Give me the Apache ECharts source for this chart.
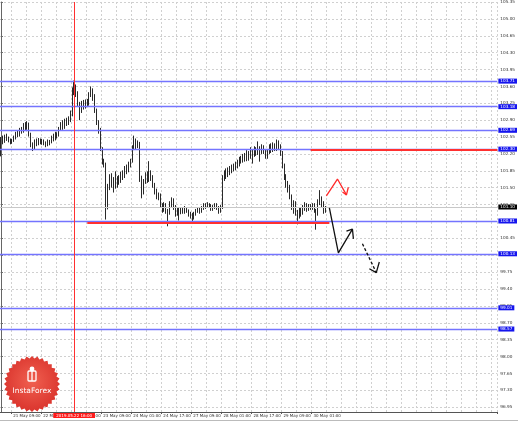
<!DOCTYPE html>
<html><head><meta charset="utf-8">
<script src="https://cdn.jsdelivr.net/npm/echarts@6/dist/echarts.min.js"></script>
<style>html,body{margin:0;padding:0;background:#fff}#c{width:518px;height:421px}</style>
</head><body><div id="c"></div>
<script>
// ---- data ----
const timeLabels = ['21 May 09:00','22 May 01:00','22 May 17:00','23 May 09:00','24 May 01:00','24 May 17:00','27 May 09:00','28 May 01:00','28 May 17:00','29 May 09:00','30 May 01:00'];
const priceTicks = [96.95,97.30,97.65,98.00,98.35,98.70,99.05,99.40,99.75,100.10,100.45,100.80,101.15,101.50,101.85,102.20,102.55,102.90,103.25,103.60,103.95,104.30,104.65,105.00,105.35];
const levels = [103.71,103.18,102.69,102.30,100.81,100.13,99.01,98.57];
const currentPrice = 101.10;
const markerTime = '2019.05.22 16:00';
// candles: [open, close, low, high]
const candles = [
[102.42,102.50,102.15,102.55],[102.50,102.46,102.40,102.58],[102.46,102.55,102.43,102.60],[102.55,102.52,102.47,102.62],
[102.52,102.48,102.44,102.56],[102.48,102.44,102.40,102.52],[102.44,102.47,102.41,102.51],[102.47,102.54,102.45,102.58],
[102.54,102.62,102.50,102.66],[102.62,102.58,102.55,102.68],[102.58,102.70,102.56,102.74],[102.70,102.66,102.62,102.76],
[102.66,102.78,102.64,102.84],[102.78,102.74,102.68,102.86],[102.74,102.82,102.70,102.88],[102.82,102.60,102.56,102.85],
[102.60,102.38,102.34,102.64],[102.38,102.32,102.26,102.44],[102.32,102.45,102.30,102.50],[102.45,102.40,102.36,102.52],
[102.40,102.48,102.38,102.53],[102.48,102.44,102.40,102.52],[102.44,102.47,102.39,102.51],[102.47,102.42,102.38,102.50],
[102.42,102.38,102.34,102.46],[102.38,102.46,102.36,102.50],[102.46,102.43,102.38,102.49],[102.43,102.55,102.42,102.58],
[102.55,102.50,102.46,102.62],[102.50,102.62,102.48,102.66],[102.62,102.58,102.52,102.65],[102.58,102.72,102.56,102.76],
[102.72,102.80,102.68,102.86],[102.80,102.74,102.70,102.90],[102.74,102.88,102.72,102.93],[102.88,102.82,102.78,102.95],
[102.82,102.90,102.80,102.98],[102.90,103.02,102.86,103.10],[103.02,103.50,102.98,103.58],[103.50,103.56,103.42,103.72],
[103.56,103.45,103.38,103.64],[103.45,103.22,103.18,103.50],[103.22,103.15,102.90,103.28],[103.15,103.25,103.05,103.30],
[103.25,103.18,103.12,103.32],[103.18,103.28,103.14,103.33],[103.28,103.22,103.17,103.34],[103.22,103.42,103.20,103.48],
[103.42,103.52,103.38,103.60],[103.52,103.40,103.30,103.56],[103.40,103.10,103.05,103.44],[103.10,102.85,102.80,103.14],
[102.85,102.70,102.62,102.90],[102.70,102.30,102.26,102.74],[102.30,102.05,101.98,102.34],[102.05,101.98,101.92,102.10],
[101.98,101.12,100.84,102.02],[101.12,101.50,101.05,101.58],[101.50,101.72,101.45,101.78],[101.72,101.58,101.50,101.80],
[101.58,101.66,101.40,101.72],[101.66,101.55,101.48,101.84],[101.55,101.70,101.50,101.74],[101.70,101.62,101.56,101.76],
[101.62,101.78,101.60,101.83],[101.78,101.72,101.66,101.86],[101.72,101.90,101.70,101.95],[101.90,101.85,101.78,101.98],
[101.85,101.98,101.82,102.04],[101.98,102.06,101.92,102.10],[102.06,102.32,102.02,102.38],[102.32,102.48,102.28,102.58],
[102.48,102.38,102.30,102.52],[102.38,102.42,102.32,102.48],[102.42,101.70,101.62,102.45],[101.70,101.40,101.28,101.75],
[101.40,101.62,101.36,101.68],[101.62,101.78,101.58,101.82],[101.78,101.66,101.60,101.84],[101.66,101.80,101.62,102.05],
[101.80,101.70,101.64,101.86],[101.70,101.56,101.50,101.76],[101.56,101.42,101.36,101.60],[101.42,101.30,101.26,101.48],
[101.30,101.34,101.24,101.40],[101.34,101.12,101.08,101.38],[101.12,101.06,100.98,101.18],[101.06,101.14,101.00,101.20],
[101.14,101.02,100.96,101.18],[101.02,100.98,100.70,101.06],[100.98,101.15,100.94,101.22],[101.15,101.24,101.10,101.30],
[101.24,101.10,101.04,101.28],[101.10,100.96,100.90,101.14],[100.96,101.05,100.92,101.10],[101.05,100.98,100.82,101.08],
[100.98,101.04,100.95,101.10],[101.04,101.00,100.96,101.08],[101.00,101.06,100.96,101.12],[101.06,101.02,100.98,101.10],
[101.02,100.96,100.90,101.05],[100.96,100.92,100.86,101.00],[100.92,100.86,100.80,100.98],[100.86,100.96,100.84,101.00],
[100.96,101.02,100.92,101.06],[101.02,101.06,100.98,101.10],[101.06,101.00,100.96,101.10],[101.00,101.08,100.98,101.12],
[101.08,101.14,101.04,101.18],[101.14,101.10,101.06,101.18],[101.10,101.16,101.08,101.20],[101.16,101.12,101.08,101.18],
[101.12,101.06,101.02,101.16],[101.06,101.10,101.02,101.14],[101.10,101.14,101.06,101.18],[101.14,101.08,101.04,101.18],
[101.08,101.02,100.96,101.12],[101.02,101.10,100.98,101.14],[101.10,101.70,101.06,101.76],[101.70,101.80,101.64,101.86],
[101.80,101.76,101.68,101.90],[101.76,101.86,101.72,101.92],[101.86,101.82,101.76,101.95],[101.82,101.94,101.80,101.98],
[101.94,101.90,101.84,102.00],[101.90,102.00,101.86,102.04],[102.00,101.96,101.90,102.08],[101.96,102.10,101.94,102.14],
[102.10,102.06,102.00,102.16],[102.06,102.16,102.02,102.20],[102.16,102.08,102.04,102.22],[102.08,102.20,102.05,102.28],
[102.20,102.12,102.06,102.26],[102.12,102.26,102.10,102.34],[102.26,102.18,102.00,102.30],[102.18,102.30,102.14,102.36],
[102.30,102.22,102.16,102.34],[102.22,102.32,102.18,102.46],[102.32,102.24,102.04,102.36],[102.24,102.34,102.20,102.40],
[102.34,102.26,102.20,102.38],[102.26,102.14,102.10,102.30],[102.14,102.24,102.10,102.30],[102.24,102.34,102.20,102.40],
[102.34,102.28,102.22,102.42],[102.28,102.38,102.24,102.44],[102.38,102.30,102.26,102.42],[102.30,102.40,102.26,102.50],
[102.40,102.36,102.28,102.48],[102.36,102.22,102.16,102.40],[102.22,101.95,101.90,102.26],[101.95,101.72,101.66,102.00],
[101.72,101.58,101.50,101.78],[101.58,101.50,101.40,101.64],[101.50,101.32,101.26,101.56],[101.32,101.10,101.04,101.36],
[101.10,101.18,100.96,101.24],[101.18,100.98,100.92,101.22],[100.98,100.92,100.74,101.04],[100.92,101.04,100.86,101.08],
[101.04,100.96,100.90,101.10],[100.96,101.08,100.94,101.14],[101.08,101.14,101.02,101.20],[101.14,101.06,101.00,101.18],
[101.06,101.12,101.02,101.16],[101.12,101.08,101.04,101.16],[101.08,101.14,101.04,101.18],[101.14,101.02,100.98,101.18],
[101.02,100.96,100.63,101.06],[100.96,101.20,100.92,101.26],[101.20,101.26,101.14,101.45],[101.26,101.16,101.10,101.32],
[101.16,101.02,100.96,101.22],[101.02,101.10,100.98,101.12]
];
// annotation paths: [bar position, price]
const redPath = [[173.4,101.33],[179.3,101.68],[184.1,101.35]];
const redHead = [[182.0,101.41],[184.1,101.35],[185.1,101.51]];
const blackPath = [[175.0,101.08],[179.8,100.15],[187.3,100.64]];
const blackHead = [[184.1,100.60],[187.3,100.64],[187.8,100.44]];
const dashPath = [[192.6,100.34],[200.0,99.74]];
const dashHead = [[196.3,99.82],[200.0,99.74],[201.6,99.96]];
const supportLine = {from: 46, to: 175, value: 100.78};
const resistLine = {from: 165, value: 102.28};
const markerBar = 39;
const firstLabelBar = 6, labelStep = 16, gridStep = 8;

// ---- build ----
const N = 265;
const cats = [];
for (let i = 0; i < N; i++) cats.push('');
timeLabels.forEach((t, k) => { cats[firstLabelBar + k * labelStep] = t; });

const chart = echarts.init(document.getElementById('c'), null, {renderer: 'canvas'});
const FS = 4.2;
const FSX = 4.0;
const FONT = 'DejaVu Sans';
const BLUE = '#7474ff';

function seal(cx, cy, ro, ri, n) {
  const pts = [];
  for (let i = 0; i < n * 2; i++) {
    const r = i % 2 === 0 ? ro : ri;
    const a = Math.PI * i / n - Math.PI / 2;
    pts.push([cx + r * Math.cos(a), cy + r * Math.sin(a)]);
  }
  return pts;
}

const lineSeries = (data, color, width, type) => ({
  type: 'line', xAxisIndex: 1, yAxisIndex: 0, data: data, symbol: 'none', silent: true,
  lineStyle: {color: color, width: width, type: type || 'solid'}, z: 6, animation: false
});

const levelLabel = (txt, bg) => ({show: true, position: 'end', distance: 1, formatter: () => txt, color: '#fff', backgroundColor: bg, fontSize: FS, fontFamily: FONT, padding: [1, 2, 0, 2]});

const option = {
  animation: false,
  backgroundColor: '#ffffff',
  grid: {left: 0, right: 20, top: 0, bottom: 9, containLabel: false},
  xAxis: [{
    type: 'category', data: cats, boundaryGap: true,
    axisLine: {show: true, lineStyle: {color: '#555', width: 1}},
    axisTick: {show: true, length: 2, interval: (i) => cats[i] !== '', lineStyle: {color: '#555'}},
    axisLabel: {show: true, interval: (i) => cats[i] !== '', hideOverlap: false, showMinLabel: true, align: 'left', margin: 2, fontSize: FSX, fontFamily: FONT, color: '#333', padding: [0,0,0,1]},
    splitLine: {show: true, interval: (i) => ((i - firstLabelBar) % gridStep + gridStep) % gridStep === 0, lineStyle: {color: '#d0d0d0', type: [2, 2], width: 1}}
  }, {
    type: 'value', min: -0.5, max: N - 0.5, show: false
  }],
  yAxis: [{
    type: 'value', position: 'right', min: 96.85, max: 105.35, scale: true,
    axisLine: {show: true, lineStyle: {color: '#666', width: 1}},
    axisTick: {show: true, length: 2, customValues: priceTicks, lineStyle: {color: '#666'}},
    axisLabel: {show: true, customValues: priceTicks, formatter: (v) => v.toFixed(2), fontSize: FS, fontFamily: FONT, color: '#333', margin: 3},
    splitLine: {show: true, lineStyle: {color: '#d0d0d0', type: [2, 2], width: 1}}
  }],
  series: [
    {
      type: 'candlestick', data: candles, xAxisIndex: 0, yAxisIndex: 0, barWidth: 1.2, silent: true,
      itemStyle: {color: '#ffffff', color0: '#111', borderColor: '#111', borderColor0: '#111', borderWidth: 0.9},
      z: 4
    },
    Object.assign(lineSeries(redPath, '#ff2a2a', 1.3), {
      markLine: {
        silent: true, symbol: 'none', animation: false, precision: 2,
        data: [
          {yAxis: currentPrice, lineStyle: {color: '#c8c8c8', width: 1, type: 'solid'}, label: levelLabel(currentPrice.toFixed(2), '#000')},
          ...levels.map(v => ({yAxis: v, lineStyle: {color: BLUE, width: 1.4, type: 'solid', opacity: 1}, label: levelLabel(v.toFixed(2), '#1414ee')})),
          [{coord: [supportLine.from, supportLine.value], lineStyle: {color: '#ff3030', width: 2, type: 'solid'}, label: {show: false}},
           {coord: [supportLine.to, supportLine.value]}],
          [{coord: [resistLine.from, resistLine.value], lineStyle: {color: '#ff3030', width: 2, type: 'solid'}, label: {show: false}},
           {coord: [N - 0.5, resistLine.value]}],
          {xAxis: markerBar, lineStyle: {color: '#ff3030', width: 1, type: 'solid'},
           label: {show: true, position: 'start', distance: 1, formatter: () => markerTime, color: '#fff', backgroundColor: '#ff1a1a', fontSize: FSX, fontFamily: FONT, padding: [1, 3, 0, 3]}}
        ]
      }
    }),
    lineSeries(redHead, '#ff2a2a', 1.3),
    lineSeries(blackPath, '#111', 1.3),
    lineSeries(blackHead, '#111', 1.3),
    lineSeries(dashPath, '#111', 1.3, [3, 2]),
    lineSeries(dashHead, '#111', 1.3)
  ],
  graphic: [
    {type: 'polygon', shape: {points: seal(32, 384, 28, 25.5, 32)}, style: {fill: new echarts.graphic.RadialGradient(0.5, 0.45, 0.6, [{offset: 0, color: '#f06050'}, {offset: 1, color: '#d8302a'}])}, z: 20, silent: true},
    {type: 'rect', shape: {x: 28, y: 371, width: 8, height: 10, r: 1}, style: {fill: 'none', stroke: '#fff', lineWidth: 1.3}, z: 21, silent: true},
    {type: 'circle', shape: {cx: 32, cy: 369, r: 2.4}, style: {fill: '#fff'}, z: 21, silent: true},
    {type: 'line', shape: {x1: 32, y1: 371, x2: 32, y2: 381}, style: {stroke: '#fff', lineWidth: 1.3}, z: 21, silent: true},
    {type: 'text', style: {x: 32, y: 391, text: 'InstaForex', fill: '#fff', font: '7.5px "DejaVu Sans"', align: 'center', verticalAlign: 'middle'}, z: 21, silent: true},
    {type: 'line', shape: {x1: 0, y1: 420.5, x2: 518, y2: 420.5}, style: {stroke: '#bbb', lineWidth: 1}, z: 1, silent: true}
  ]
};
chart.setOption(option);
</script>
</body></html>
